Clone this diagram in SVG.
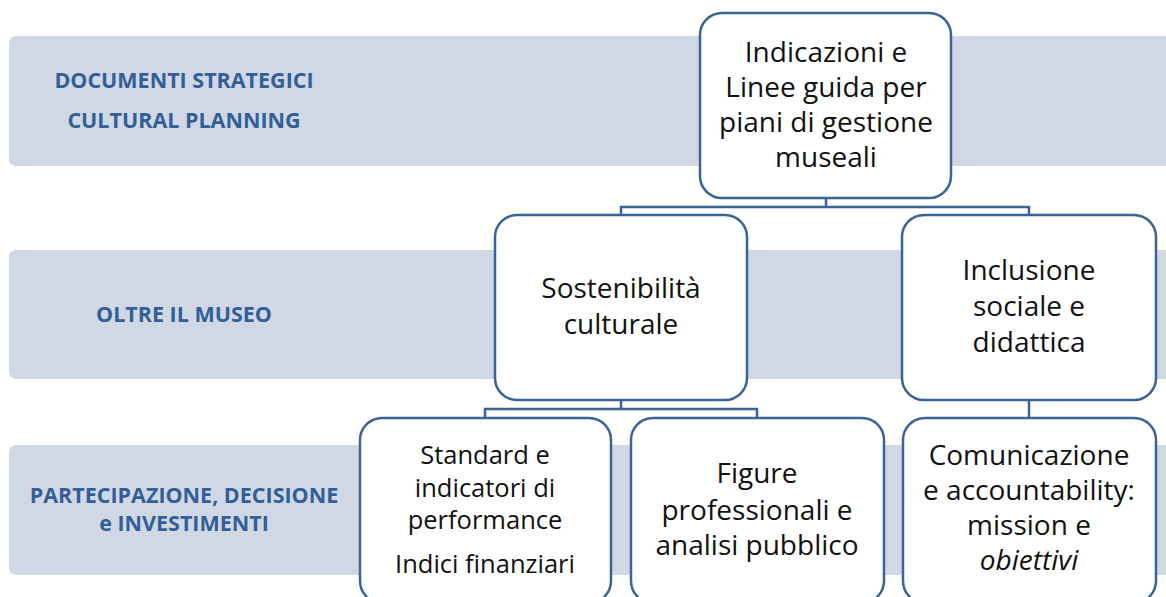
<svg xmlns="http://www.w3.org/2000/svg" width="1166" height="597" viewBox="0 0 1166 597">
<style>
.band{fill:#D0D8E6}
.lbl{font-family:"Open Sans","Liberation Sans",sans-serif;font-weight:bold;font-size:21.5px;fill:#335F96;text-anchor:middle}
.box{fill:#FFFFFF;stroke:#3B6496;stroke-width:2.5}
.t{font-family:"Open Sans","Liberation Sans",sans-serif;font-size:28px;fill:#111111;text-anchor:middle}
.t26{font-size:25.5px}
.conn{fill:none;stroke:#3B6496;stroke-width:2.5}
</style>
<g id="bands">
<rect class="band" x="9" y="36" width="1170" height="130" rx="7"/>
<rect class="band" x="9" y="250" width="1170" height="129" rx="7"/>
<rect class="band" x="9" y="445" width="1170" height="130" rx="7"/>
<text class="lbl" x="184" y="88">DOCUMENTI STRATEGICI</text>
<text class="lbl" x="184" y="128">CULTURAL PLANNING</text>
<text class="lbl" x="184" y="322">OLTRE IL MUSEO</text>
<text class="lbl" x="184" y="503">PARTECIPAZIONE, DECISIONE</text>
<text class="lbl" x="184" y="531">e INVESTIMENTI</text>
</g>
<g id="connectors">
<path class="conn" d="M826 198 V207 M621 215 V207 H1029 V215"/>
<path class="conn" d="M621 400 V409 M485 418 V409 H757 V418"/>
<path class="conn" d="M1029 400 V418"/>
</g>
<g id="node-linee-guida">
<rect class="box" x="700" y="13" width="251" height="185" rx="22"/>
<text class="t" x="826" y="62">Indicazioni e</text>
<text class="t" x="826" y="97">Linee guida per</text>
<text class="t" x="826" y="132">piani di gestione</text>
<text class="t" x="826" y="167">museali</text>
</g>
<g id="node-sostenibilita">
<rect class="box" x="495" y="215" width="252" height="185" rx="22"/>
<text class="t" x="621" y="298">Sostenibilità</text>
<text class="t" x="621" y="334">culturale</text>
</g>
<g id="node-inclusione">
<rect class="box" x="902" y="215" width="254" height="185" rx="22"/>
<text class="t" x="1029" y="280">Inclusione</text>
<text class="t" x="1029" y="316">sociale e</text>
<text class="t" x="1029" y="352">didattica</text>
</g>
<g id="node-standard">
<rect class="box" x="360" y="418" width="251" height="185" rx="22"/>
<text class="t t26" x="485" y="464">Standard e</text>
<text class="t t26" x="485" y="497">indicatori di</text>
<text class="t t26" x="485" y="529">performance</text>
<text class="t t26" x="485" y="573">Indici finanziari</text>
</g>
<g id="node-figure">
<rect class="box" x="631" y="418" width="253" height="185" rx="22"/>
<text class="t" x="757" y="483">Figure</text>
<text class="t" x="757" y="520">professionali e</text>
<text class="t" x="757" y="555">analisi pubblico</text>
</g>
<g id="node-comunicazione">
<rect class="box" x="903" y="418" width="253" height="185" rx="22"/>
<text class="t" x="1029" y="465">Comunicazione</text>
<text class="t" x="1029" y="500">e accountability:</text>
<text class="t" x="1029" y="535">mission e</text>
<text class="t" x="1029" y="570" font-style="italic">obiettivi</text>
</g>
</svg>
